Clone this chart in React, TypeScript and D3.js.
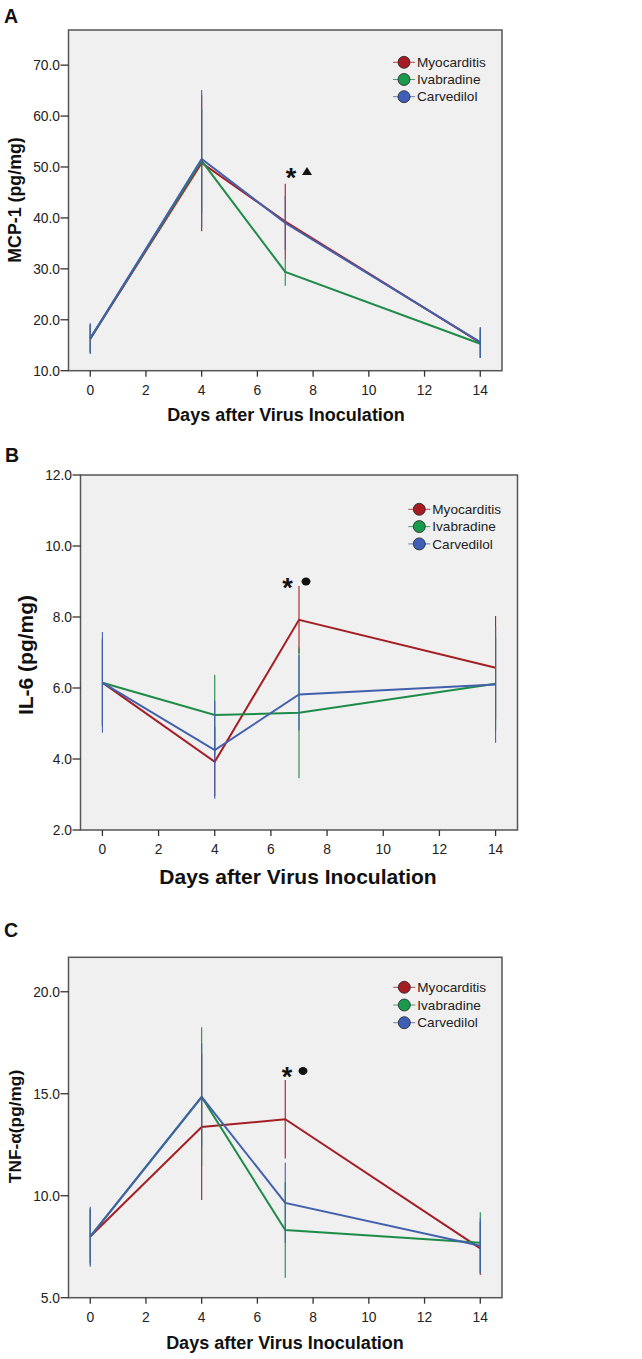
import React from "react";
import * as d3 from "d3";

// ---------- DATA ----------
const days = [0, 4, 7, 14];
const seriesNames = ["Myocarditis", "Ivabradine", "Carvedilol"];
const seriesColors = ["#a41f24", "#1e8c48", "#4360ad"];
const markerColors = ["#a51c22", "#1a9a4c", "#3d5fb8"];

// Panel A: MCP-1
const mcpMyo = [16.3, 50.8, 39.3, 15.5];
const mcpIva = [16.3, 51.2, 29.4, 15.3];
const mcpCar = [16.3, 51.6, 39.0, 15.6];
const mcpMyoLo = [13.5, 37.4, 32.0, 12.6];
const mcpMyoHi = [19.1, 64.2, 46.7, 18.4];
const mcpIvaLo = [13.6, 41.0, 26.7, 12.5];
const mcpIvaHi = [19.0, 61.4, 32.1, 18.1];
const mcpCarLo = [13.3, 38.1, 33.7, 12.5];
const mcpCarHi = [19.3, 65.1, 44.3, 18.6];
const mcpTicks = [10, 20, 30, 40, 50, 60, 70];

// Panel B: IL-6
const il6Myo = [6.15, 3.92, 7.92, 6.57];
const il6Iva = [6.15, 5.24, 5.3, 6.12];
const il6Car = [6.15, 4.25, 5.82, 6.1];
const il6MyoLo = [4.95, 2.95, 6.97, 5.11];
const il6MyoHi = [7.35, 4.9, 8.87, 8.03];
const il6IvaLo = [4.9, 4.11, 3.46, 4.8];
const il6IvaHi = [7.4, 6.37, 7.14, 7.44];
const il6CarLo = [4.74, 2.88, 4.8, 4.46];
const il6CarHi = [7.58, 5.64, 6.92, 7.72];
const il6Ticks = [2, 4, 6, 8, 10, 12];

// Panel C: TNF-α
const tnfMyo = [8.0, 13.37, 13.75, 7.42];
const tnfIva = [8.0, 14.84, 8.32, 7.7];
const tnfCar = [8.0, 14.85, 9.65, 7.55];
const tnfMyoLo = [6.7, 9.79, 11.83, 6.11];
const tnfMyoHi = [9.3, 16.95, 15.67, 8.73];
const tnfIvaLo = [6.6, 11.42, 5.98, 6.21];
const tnfIvaHi = [9.4, 18.26, 10.66, 9.19];
const tnfCarLo = [6.52, 12.4, 7.68, 6.2];
const tnfCarHi = [9.46, 17.48, 11.62, 8.9];
const tnfTicks = [5, 10, 15, 20];

const xTicks = [0, 2, 4, 6, 8, 10, 12, 14];

type PanelCfg = {
  letter: string;
  letterX: number;
  letterY: number;
  yTitle: string;
  yTitleX: number;
  left: number;
  right: number;
  top: number;
  bottom: number;
  yDomain: [number, number];
  yTicks: number[];
  means: number[][];
  lows: number[][];
  highs: number[][];
  legendX: number;
  legendY: number;
  legendDy: number;
  xTitleSize: number;
  xTitleY: number;
  xTitleX: number;
  yTitleSize: number;
  yTitleMid: number;
  starX: number;
  starY: number;
  symX: number;
  symbol: "triangle" | "dot";
};

const FONT = "Arial, 'Liberation Sans', sans-serif";

const panels: PanelCfg[] = [
  {
    letter: "A", letterX: 4, letterY: 23, yTitle: "MCP-1 (pg/mg)", yTitleX: 21,
    left: 68.5, right: 502, top: 30, bottom: 370.7,
    yDomain: [10, 76.9], yTicks: mcpTicks,
    means: [mcpMyo, mcpIva, mcpCar],
    lows: [mcpMyoLo, mcpIvaLo, mcpCarLo],
    highs: [mcpMyoHi, mcpIvaHi, mcpCarHi],
    legendX: 404, legendY: 62.3, legendDy: 17.2,
    xTitleSize: 18, xTitleY: 421, xTitleX: 286, yTitleSize: 17.8, yTitleMid: 200,
    starX: 291, starY: 172, symX: 307, symbol: "triangle",
  },
  {
    letter: "B", letterX: 5, letterY: 462, yTitle: "IL-6 (pg/mg)", yTitleX: 33,
    left: 80.5, right: 517.5, top: 475, bottom: 830,
    yDomain: [2, 12], yTicks: il6Ticks,
    means: [il6Myo, il6Iva, il6Car],
    lows: [il6MyoLo, il6IvaLo, il6CarLo],
    highs: [il6MyoHi, il6IvaHi, il6CarHi],
    legendX: 419.3, legendY: 509.3, legendDy: 17.3,
    xTitleSize: 21, xTitleY: 884, xTitleX: 298, yTitleSize: 21, yTitleMid: 655,
    starX: 287.5, starY: 582, symX: 306, symbol: "dot",
  },
  {
    letter: "C", letterX: 4, letterY: 937, yTitle: "TNF-α(pg/mg)", yTitleX: 21,
    left: 68.5, right: 502, top: 957.3, bottom: 1297.7,
    yDomain: [5, 21.69], yTicks: tnfTicks,
    means: [tnfMyo, tnfIva, tnfCar],
    lows: [tnfMyoLo, tnfIvaLo, tnfCarLo],
    highs: [tnfMyoHi, tnfIvaHi, tnfCarHi],
    legendX: 404.3, legendY: 987.3, legendDy: 17.7,
    xTitleSize: 18, xTitleY: 1349, xTitleX: 285, yTitleSize: 17.3, yTitleMid: 1126.5,
    starX: 287, starY: 1071.5, symX: 303, symbol: "dot",
  },
];

function Panel({ cfg }: { cfg: PanelCfg }) {
  const x = d3
    .scaleLinear()
    .domain([-0.78, 14.78])
    .range([cfg.left, cfg.right]);
  const y = d3.scaleLinear().domain(cfg.yDomain).range([cfg.bottom, cfg.top]);
  const line = d3
    .line<number>()
    .x((_, i) => x(days[i]))
    .y((d) => y(d));
  const fmt = d3.format(".1f");
  const axisColor = "#555";
  return (
    <g>
      <text x={cfg.letterX} y={cfg.letterY} fontFamily={FONT} fontWeight="bold" fontSize={19.5} fill="#111">
        {cfg.letter}
      </text>
      <rect
        x={cfg.left}
        y={cfg.top}
        width={cfg.right - cfg.left}
        height={cfg.bottom - cfg.top}
        fill="#f0f0f0"
        stroke={axisColor}
        strokeWidth={1.5}
      />
      {/* y ticks */}
      {cfg.yTicks.map((t) => (
        <g key={"y" + t}>
          <line x1={cfg.left - 8} x2={cfg.left} y1={y(t)} y2={y(t)} stroke="#333" strokeWidth={1.3} />
          <text
            x={cfg.left - 8.5}
            y={y(t)}
            dy="0.35em"
            textAnchor="end"
            fontFamily={FONT}
            fontSize={13.8}
            fill="#222"
          >
            {fmt(t)}
          </text>
        </g>
      ))}
      {/* x ticks */}
      {xTicks.map((t) => (
        <g key={"x" + t}>
          <line x1={x(t)} x2={x(t)} y1={cfg.bottom} y2={cfg.bottom + 6} stroke="#333" strokeWidth={1.3} />
          <text
            x={x(t)}
            y={cfg.bottom + 19.5}
            dy="0.35em"
            textAnchor="middle"
            fontFamily={FONT}
            fontSize={13.8}
            fill="#222"
          >
            {t}
          </text>
        </g>
      ))}
      <text
        x={cfg.xTitleX}
        y={cfg.xTitleY}
        textAnchor="middle"
        fontFamily={FONT}
        fontWeight="bold"
        fontSize={cfg.xTitleSize}
        fill="#111"
      >
        Days after Virus Inoculation
      </text>
      <text
        transform={`translate(${cfg.yTitleX},${cfg.yTitleMid}) rotate(-90)`}
        textAnchor="middle"
        fontFamily={FONT}
        fontWeight="bold"
        fontSize={cfg.yTitleSize}
        fill="#111"
      >
        {cfg.yTitle}
      </text>
      {/* series lines */}
      {cfg.means.map((m, si) => (
        <path key={"l" + si} d={line(m) || ""} fill="none" stroke={seriesColors[si]} strokeWidth={2} />
      ))}
      {/* error bars */}
      {cfg.means.map((m, si) =>
        m.map((_, di) => (
          <line
            key={"e" + si + "-" + di}
            x1={x(days[di])}
            x2={x(days[di])}
            y1={y(cfg.lows[si][di])}
            y2={y(cfg.highs[si][di])}
            stroke={seriesColors[si]}
            strokeWidth={1.1}
          />
        ))
      )}
      {/* legend */}
      {seriesNames.map((n, i) => {
        const ly = cfg.legendY + i * cfg.legendDy;
        return (
          <g key={"lg" + n}>
            <line
              x1={cfg.legendX - 11}
              x2={cfg.legendX + 11}
              y1={ly}
              y2={ly}
              stroke={seriesColors[i]}
              strokeWidth={1}
              opacity={0.8}
            />
            <circle cx={cfg.legendX} cy={ly} r={6} fill={markerColors[i]} stroke="#222" strokeWidth={0.8} />
            <text
              x={cfg.legendX + 13}
              y={ly}
              dy="0.35em"
              fontFamily={FONT}
              fontSize={13.6}
              fill="#222"
            >
              {n}
            </text>
          </g>
        );
      })}
      {/* significance markers */}
      <text
        x={cfg.starX}
        y={cfg.starY}
        dy="0.55em"
        textAnchor="middle"
        fontFamily={FONT}
        fontWeight="bold"
        fontSize={27}
        fill="#111"
      >
        *
      </text>
      {cfg.symbol === "triangle" ? (
        <path
          d={`M${cfg.symX},${cfg.starY - 5} L${cfg.symX + 5},${cfg.starY + 3} L${cfg.symX - 5},${cfg.starY + 3} Z`}
          fill="#111"
        />
      ) : (
        <ellipse cx={cfg.symX} cy={cfg.starY - 0.5} rx={4.5} ry={4} fill="#111" />
      )}
    </g>
  );
}

export default function App() {
  return (
    <svg
      width={642}
      height={1359}
      style={{ display: "block", position: "absolute", top: 0, left: 0, background: "#fff" }}
    >
      <rect x={0} y={0} width={642} height={1359} fill="#fff" />
      {panels.map((p) => (
        <Panel key={p.letter} cfg={p} />
      ))}
    </svg>
  );
}
